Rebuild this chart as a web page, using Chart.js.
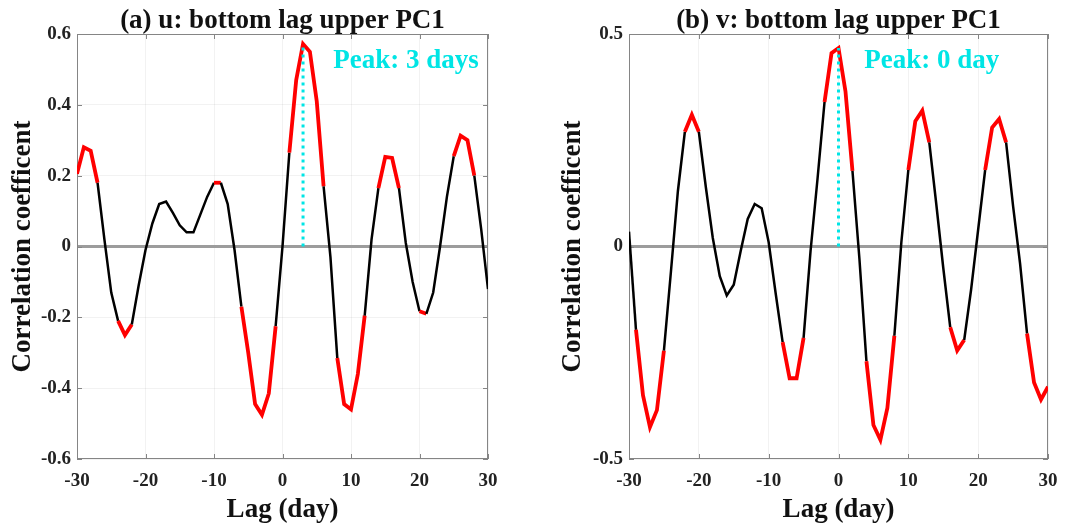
<!DOCTYPE html>
<html><head><meta charset="utf-8">
<script src="https://cdn.jsdelivr.net/npm/chart.js@4.4.1/dist/chart.umd.min.js"></script>
<style>
html,body{margin:0;padding:0;background:#fff;}
#wrap{position:relative;width:1069px;height:526px;background:#fff;}
.panel{position:absolute;top:0;height:526px;}
#pa{left:0;width:540px;}
#pb{left:540px;width:529px;}
</style></head><body>
<div id="wrap">
  <div class="panel" id="pa"><canvas id="ca"></canvas></div>
  <div class="panel" id="pb"><canvas id="cb"></canvas></div>
</div>
<script>
// ---- data ----
const lags = [-30,-29,-28,-27,-26,-25,-24,-23,-22,-21,-20,-19,-18,-17,-16,-15,-14,-13,-12,-11,
              -10,-9,-8,-7,-6,-5,-4,-3,-2,-1,0,1,2,3,4,5,6,7,8,9,
              10,11,12,13,14,15,16,17,18,19,20,21,22,23,24,25,26,27,28,29,30];
const uCorr = [0.205,0.28,0.27,0.18,0.02,-0.13,-0.21,-0.25,-0.22,-0.11,
               -0.01,0.065,0.12,0.127,0.095,0.06,0.04,0.04,0.09,0.14,
               0.18,0.18,0.12,-0.01,-0.17,-0.30,-0.445,-0.475,-0.415,-0.225,
               0.0,0.265,0.47,0.572,0.55,0.41,0.17,-0.03,-0.315,-0.445,
               -0.46,-0.36,-0.195,0.02,0.165,0.253,0.25,0.165,0.01,-0.10,
               -0.183,-0.19,-0.13,0.0,0.14,0.255,0.313,0.30,0.20,0.05,-0.12];
const vCorr = [0.035,-0.196,-0.35,-0.425,-0.385,-0.245,-0.06,0.13,0.27,0.31,
               0.27,0.14,0.02,-0.07,-0.115,-0.09,-0.01,0.065,0.10,0.09,
               0.01,-0.11,-0.225,-0.31,-0.31,-0.215,-0.01,0.16,0.34,0.455,
               0.467,0.365,0.178,-0.03,-0.27,-0.42,-0.455,-0.38,-0.21,0.01,
               0.18,0.295,0.32,0.245,0.10,-0.05,-0.19,-0.245,-0.22,-0.10,
               0.04,0.18,0.28,0.30,0.245,0.095,-0.04,-0.205,-0.32,-0.36,-0.33];
const xTicks = [-30,-20,-10,0,10,20,30];
const uYTicks = [-0.6,-0.4,-0.2,0,0.2,0.4,0.6];
const vYTicks = [-0.5,0,0.5];
const uSigLevel = 0.16;
const vSigLevel = 0.17;
const uTitle = '(a) u: bottom lag upper PC1';
const vTitle = '(b) v: bottom lag upper PC1';
const yTitle = 'Correlation coefficent';
const xTitle = 'Lag (day)';
const uPeakLabelAt = [7.4, 0.505];
const vPeakLabelAt = [3.7, 0.42];

const FONT = '"Liberation Serif", "Times New Roman", serif';

function makeChart(canvasId, values, yTicks, sig, title, labelAt, geom) {
  const points = lags.map((x, i) => ({x, y: values[i]}));
  let pi = 0;
  values.forEach((v, i) => { if (v > values[pi]) pi = i; });
  const peakLag = lags[pi], peakVal = values[pi];
  const peakText = 'Peak: ' + peakLag + (peakLag === 0 ? ' day' : ' days');
  const isSig = v => Math.abs(v) >= sig;

  const decor = {
    id: 'decor',
    beforeDatasetsDraw(chart) {
      const {ctx, chartArea: a, scales: {x, y}} = chart;
      ctx.save();
      ctx.strokeStyle = '#858585';
      ctx.lineWidth = 1;
      ctx.strokeRect(a.left + 0.5, a.top + 0.5, a.right - a.left - 1, a.bottom - a.top - 1);
      ctx.beginPath();
      const tl = 5;
      xTicks.forEach(t => {
        const px = Math.round(x.getPixelForValue(t)) + 0.5;
        ctx.moveTo(px, a.bottom); ctx.lineTo(px, a.bottom - tl);
        ctx.moveTo(px, a.top); ctx.lineTo(px, a.top + tl);
      });
      yTicks.forEach(t => {
        const py = Math.round(y.getPixelForValue(t)) + 0.5;
        ctx.moveTo(a.left, py); ctx.lineTo(a.left + tl, py);
        ctx.moveTo(a.right, py); ctx.lineTo(a.right - tl, py);
      });
      ctx.stroke();
      ctx.restore();
    },
    afterDraw(chart) {
      const {ctx, chartArea: a, scales: {x, y}} = chart;
      ctx.save();
      ctx.font = 'bold 27px ' + FONT;
      ctx.fillStyle = '#111';
      ctx.textAlign = 'center';
      ctx.textBaseline = 'alphabetic';
      ctx.fillText(title, (a.left + a.right) / 2, a.top - 6);
      ctx.fillStyle = '#00e5e5';
      ctx.textAlign = 'left';
      ctx.fillText(peakText, x.getPixelForValue(labelAt[0]), y.getPixelForValue(labelAt[1]));
      ctx.restore();
    }
  };

  return new Chart(document.getElementById(canvasId), {
    type: 'line',
    data: {
      datasets: [
        {
          data: [{x: peakLag, y: 0}, {x: peakLag, y: peakVal}],
          borderColor: '#00e5e5',
          borderWidth: 3,
          borderDash: [3, 4],
          pointRadius: 0,
          order: 0
        },
        {
          data: points,
          borderColor: '#000',
          borderWidth: 2.5,
          pointRadius: 0,
          tension: 0,
          order: 1,
          segment: {
            borderColor: c => (isSig(c.p0.parsed.y) && isSig(c.p1.parsed.y)) ? '#ff0000' : '#000',
            borderWidth: c => (isSig(c.p0.parsed.y) && isSig(c.p1.parsed.y)) ? 3.8 : 2.5
          }
        }
      ]
    },
    options: {
      responsive: true,
      maintainAspectRatio: false,
      animation: false,
      devicePixelRatio: 1,
      layout: {padding: {left: 0, top: 34, right: geom.padRight, bottom: 0}},
      plugins: {legend: {display: false}, tooltip: {enabled: false}, title: {display: false}},
      scales: {
        x: {
          type: 'linear', min: -30, max: 30,
          afterBuildTicks: s => { s.ticks = xTicks.map(v => ({value: v})); },
          ticks: {
            font: {family: FONT, size: 19, weight: 'bold'}, color: '#222',
            padding: 11, maxRotation: 0, autoSkip: false,
            callback: v => String(v)
          },
          grid: {color: 'rgba(0,0,0,0.05)', drawTicks: false},
          border: {display: false},
          title: {display: true, text: xTitle, color: '#111',
                  font: {family: FONT, size: 27, weight: 'bold'}, padding: {top: 0, bottom: 0}},
          afterFit: s => { s.height = 67; }
        },
        y: {
          type: 'linear', min: yTicks[0], max: yTicks[yTicks.length - 1],
          afterBuildTicks: s => { s.ticks = yTicks.map(v => ({value: v})); },
          ticks: {
            font: {family: FONT, size: 19, weight: 'bold'}, color: '#222',
            padding: 6, autoSkip: false,
            callback: v => (Math.abs(v) < 1e-9 ? '0' : String(Math.round(v * 10) / 10))
          },
          grid: {
            color: c => (c.tick && Math.abs(c.tick.value) < 1e-9) ? '#9c9c9c' : 'rgba(0,0,0,0.05)',
            lineWidth: c => (c.tick && Math.abs(c.tick.value) < 1e-9) ? 3 : 1,
            drawTicks: false
          },
          border: {display: false},
          title: {display: true, text: yTitle, color: '#111',
                  font: {family: FONT, size: 27, weight: 'bold'}, padding: {top: geom.yTitlePad, bottom: 0}},
          afterFit: s => { s.width = geom.yWidth; }
        }
      }
    },
    plugins: [decor]
  });
}

makeChart('ca', uCorr, uYTicks, uSigLevel, uTitle, uPeakLabelAt, {padRight: 52, yWidth: 77, yTitlePad: 7});
makeChart('cb', vCorr, vYTicks, vSigLevel, vTitle, vPeakLabelAt, {padRight: 21, yWidth: 89, yTitlePad: 17});
</script>
</body></html>
